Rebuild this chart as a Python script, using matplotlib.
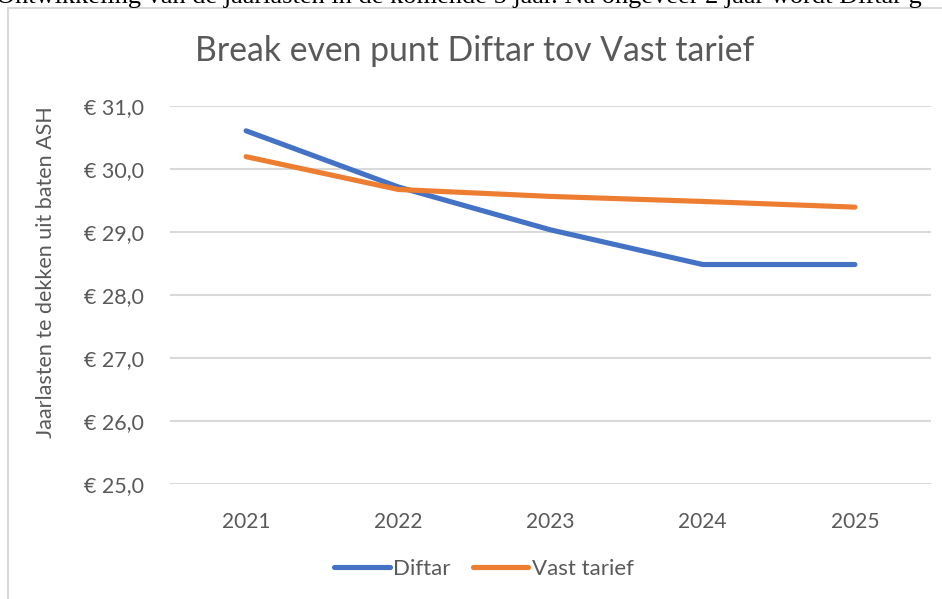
import numpy as np
import matplotlib
matplotlib.use("Agg")
import matplotlib.pyplot as plt
from matplotlib.patches import Rectangle
from matplotlib.ticker import FuncFormatter

# data
years = ["2021", "2022", "2023", "2024", "2025"]
diftar = [30.60, 29.71, 29.03, 28.48, 28.48]
vast_tarief = [30.19, 29.67, 29.56, 29.48, 29.39]
y_ticks = [25, 26, 27, 28, 29, 30, 31]

blue = "#4472C4"
orange = "#ED7D31"
grey_text = "#595959"
grid_col = "#D9D9D9"

plt.rcParams["font.family"] = ["Lato", "DejaVu Sans"]

fig = plt.figure(figsize=(9.42, 5.99), dpi=100)
W, H = 942, 599

# clipped line of document text above the chart
fig.text(-0.004, 1 - 3.0 / H,
         "Ontwikkeling van de jaarlasten in de komende 5 jaar. Na ongeveer 2 jaar wordt Diftar g",
         family="Liberation Serif", fontsize=19, color="black", va="baseline", ha="left")

# chart frame (runs off the right and bottom edge)
fig.add_artist(Rectangle((8 / W, -0.1), 1.2, 1.1 - 8 / H,
                         transform=fig.transFigure, fill=False,
                         edgecolor=grid_col, linewidth=1.5))

ax = fig.add_axes([170 / W, 1 - 484 / H, (931 - 170) / W, (484 - 105.6) / H])
x = np.arange(len(years))
ax.plot(x, diftar, color=blue, lw=3.7, solid_capstyle="round", solid_joinstyle="round", label="Diftar")
ax.plot(x, vast_tarief, color=orange, lw=3.7, solid_capstyle="round", solid_joinstyle="round", label="Vast tarief")

ax.set_xlim(-0.5, len(years) - 0.5)
ax.set_ylim(25, 31)
ax.set_xticks(x)
ax.set_xticklabels(years)
ax.set_yticks(y_ticks)
ax.yaxis.set_major_formatter(FuncFormatter(lambda v, p: "€ " + f"{v:.1f}".replace(".", ",")))
ax.grid(axis="y", color=grid_col, lw=1.5)
ax.set_axisbelow(True)
for s in ax.spines.values():
    s.set_visible(False)
ax.tick_params(length=0, labelcolor=grey_text)
ax.tick_params(axis="x", pad=20, labelsize=15)
ax.tick_params(axis="y", pad=19, labelsize=15.5)

ax.set_ylabel("Jaarlasten te dekken uit baten ASH", fontsize=15.5, color=grey_text)
ax.yaxis.set_label_coords(-(170 - 56) / (931 - 170), 0.56)

fig.text(475 / W, 1 - 51 / H, "Break even punt Diftar tov Vast tarief",
         fontsize=24.3, color=grey_text, ha="center", va="center")

fig.legend(loc="center", bbox_to_anchor=(484 / W, 1 - 569 / H), ncol=2, frameon=False,
           fontsize=16, handlelength=2.5, handletextpad=0.15, columnspacing=1.0,
           labelcolor=grey_text)

fig.savefig("out.png", dpi=100)
